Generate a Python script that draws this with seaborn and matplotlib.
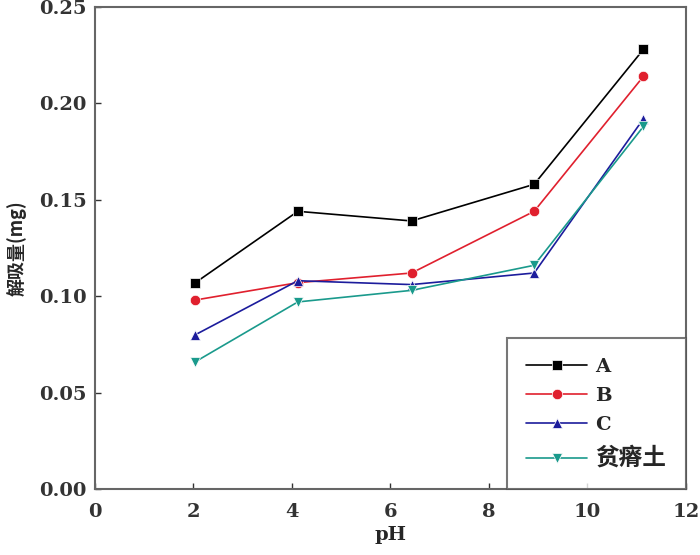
import numpy as np
import pandas as pd
import matplotlib.pyplot as plt
import seaborn as sns

sns.set_style('white')
plt.rcParams['font.family'] = ['DejaVu Serif', 'Noto Sans CJK SC']
plt.rcParams['font.weight'] = 'bold'

ph = [2.04, 4.12, 6.43, 8.92, 11.14]
series_names = ['A', 'B', 'C', '贫瘠土']
a_vals = [0.107, 0.144, 0.139, 0.158, 0.228]
b_vals = [0.098, 0.107, 0.112, 0.144, 0.214]
c_vals = [0.080, 0.108, 0.106, 0.112, 0.192]
d_vals = [0.066, 0.097, 0.103, 0.116, 0.188]

colors = {'A': '#000000', 'B': '#e0202e', 'C': '#1c1c9c', '贫瘠土': '#1a9a8c'}
markers = {'A': 's', 'B': 'o', 'C': '^', '贫瘠土': 'v'}

df = pd.DataFrame({
    'pH': ph * 4,
    'value': a_vals + b_vals + c_vals + d_vals,
    'sample': [n for n in series_names for _ in ph],
})

fig = plt.figure(figsize=(7, 5.55), dpi=100)
ax = fig.add_axes([0.1357, 0.119, 0.844, 0.8685])
sns.lineplot(data=df, x='pH', y='value', hue='sample', style='sample',
             hue_order=series_names, style_order=series_names,
             palette=colors, markers=markers, dashes=False,
             markersize=7.5, markeredgewidth=0.5, linewidth=1.2, ax=ax)

ax.set_xlim(0, 12)
ax.set_ylim(0, 0.25)
ax.set_xticks([0, 2, 4, 6, 8, 10, 12])
ax.set_yticks([0.00, 0.05, 0.10, 0.15, 0.20, 0.25])
ax.set_yticklabels(['0.00', '0.05', '0.10', '0.15', '0.20', '0.25'])
ax.tick_params(axis='both', direction='in', length=4, width=1, labelsize=14,
               colors='#333333', left=True, bottom=True)
ax.tick_params(axis='x', pad=10)
ax.tick_params(axis='y', pad=6)
for s in ax.spines.values():
    s.set_color('#666666')
    s.set_linewidth(1.5)
ax.set_xlabel('pH', fontsize=14, fontweight='bold', labelpad=4)
ax.set_ylabel('解吸量(mg)', fontsize=13, fontweight='bold', labelpad=9,
              family=['Noto Sans CJK SC', 'DejaVu Sans'])

leg = ax.legend(loc='lower right', bbox_to_anchor=(1, 0), borderaxespad=0,
                fontsize=14, frameon=True, fancybox=False, edgecolor='#555555',
                handlelength=3.1, labelspacing=0.58, borderpad=1.0,
                handletextpad=0.45, title=None)
leg.get_frame().set_linewidth(1.5)
for t in leg.get_texts():
    t.set_fontfamily(['DejaVu Serif', 'Noto Sans CJK SC'])
    t.set_fontweight('bold')
leg.get_texts()[3].set_fontsize(17)

fig.savefig('out.png', dpi=100)
